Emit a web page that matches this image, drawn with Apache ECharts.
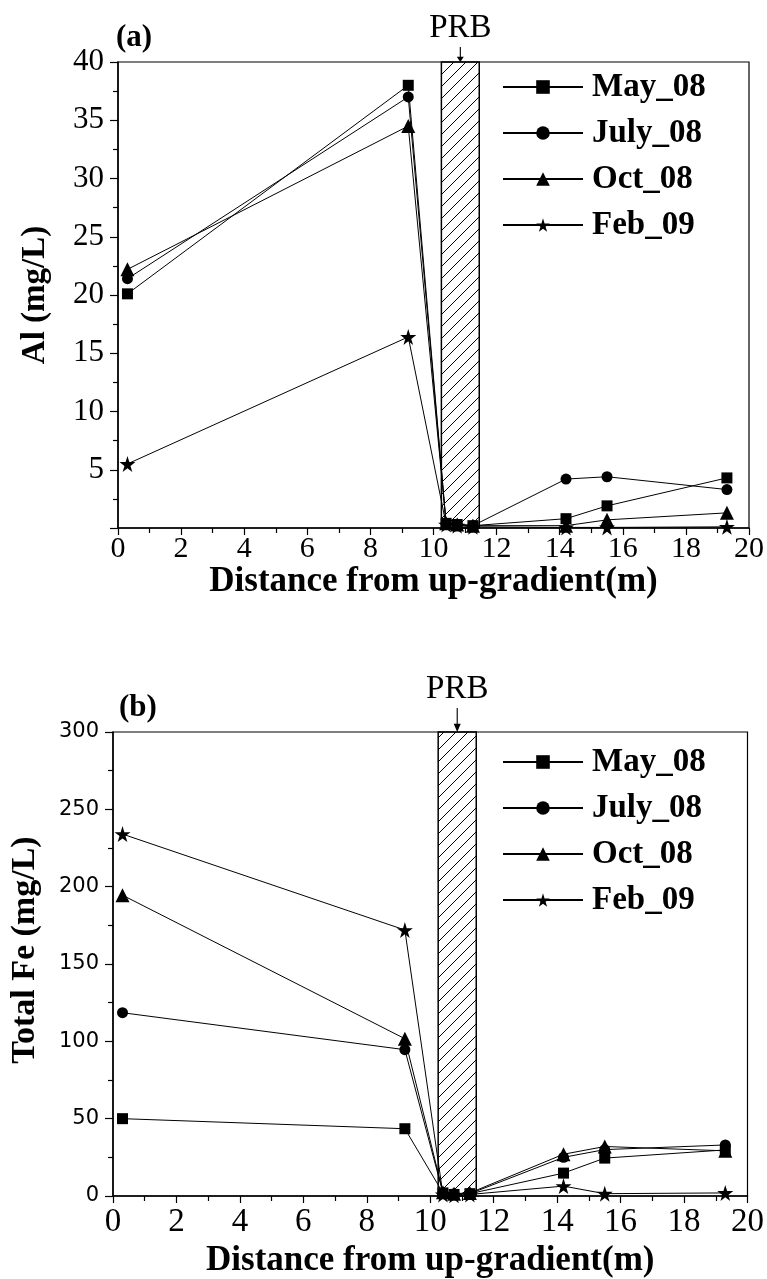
<!DOCTYPE html>
<html><head><meta charset="utf-8">
<script src="https://cdn.jsdelivr.net/npm/echarts@6/dist/echarts.min.js"></script>
<style>html,body{margin:0;padding:0;background:#fff}#c{width:767px;height:1279px}</style>
</head><body><div id="c"></div>
<script>
// ---- data ----
const distances = [0.3, 9.2, 10.4, 10.75, 11.25, 14.2, 15.5, 19.3];
const seriesNames = ['May_08', 'July_08', 'Oct_08', 'Feb_09'];
const alMay  = [20.1, 38.0, 0.4, 0.3, 0.2, 0.8, 1.9, 4.3];
const alJuly = [21.4, 37.0, 0.4, 0.3, 0.2, 4.2, 4.4, 3.3];
const alOct  = [22.2, 34.5, 0.4, 0.3, 0.2, 0.2, 0.7, 1.3];
const alFeb  = [5.5, 16.4, 0.3, 0.2, 0.1, 0.05, 0.05, 0.1];
const feMay  = [50, 43.5, 2, 1, 1.5, 14.8, 24.5, 29.8];
const feJuly = [118.5, 94.6, 2, 1.5, 1.5, 25, 30, 33];
const feOct  = [194.5, 101.7, 2.5, 1.5, 2, 27, 32, 29.2];
const feFeb  = [234, 172, 1, 0.5, 1, 6.4, 1.5, 2];
const prbZone = [10.25, 11.45];
const xTicks = [0, 20, 2];
const alTicks = [0, 40, 5];
const feTicks = [0, 300, 50];

// ---- styles ----
const SERIF = 'Liberation Serif';
const star = 'path://M50,0 L61,35 L98,35 L68,57 L79,91 L50,70 L21,91 L32,57 L2,35 L39,35 Z';
const arrow = 'path://M4.2,0 L5.8,0 L5.8,17 L10,17 L5,26 L0,17 L4.2,17 Z';
const symbols = ['rect', 'circle', 'triangle', star];
const symSizes = [11, 11, 14, 16];

function hatchCanvas() {
  const c = document.createElement('canvas');
  c.width = 12; c.height = 12;
  const g = c.getContext('2d');
  g.strokeStyle = '#000'; g.lineWidth = 1;
  g.beginPath();
  g.moveTo(-1, 13); g.lineTo(13, -1);
  g.moveTo(-7, 7); g.lineTo(7, -7);
  g.moveTo(5, 19); g.lineTo(19, 5);
  g.stroke();
  return c;
}
const hatch = hatchCanvas();

function xAxis(gi, labelSize, labelMargin, nameGap) {
  return {
    gridIndex: gi, type: 'value', min: xTicks[0], max: xTicks[1], interval: xTicks[2],
    axisLine: {onZero: false, lineStyle: {color: '#000', width: 1.5}},
    axisTick: {inside: false, length: 7, lineStyle: {color: '#000', width: 1.2}},
    minorTick: {show: true, splitNumber: 2, length: 5, lineStyle: {color: '#000', width: 1.2}},
    splitLine: {show: false},
    axisLabel: {color: '#000', fontFamily: SERIF, fontSize: labelSize, margin: labelMargin},
    name: 'Distance from up-gradient(m)', nameLocation: 'middle', nameGap: nameGap,
    nameTextStyle: {color: '#000', fontFamily: SERIF, fontWeight: 'bold', fontSize: 35}
  };
}
function yAxis(gi, ticks, name, labelStyle, nameGap, hideZero, nameSize, namePad) {
  return {
    gridIndex: gi, type: 'value', min: ticks[0], max: ticks[1], interval: ticks[2],
    axisLine: {onZero: false, lineStyle: {color: '#000', width: 1.5}},
    axisTick: {inside: false, length: 8, lineStyle: {color: '#000', width: 1.2}},
    minorTick: {show: true, splitNumber: 2, length: 5, lineStyle: {color: '#000', width: 1.2}},
    splitLine: {show: false},
    axisLabel: Object.assign({color: '#000', formatter: v => (hideZero && v === 0) ? '' : String(v)}, labelStyle),
    name: name, nameLocation: 'middle', nameRotate: 90, nameGap: nameGap,
    nameTextStyle: {color: '#000', fontFamily: SERIF, fontWeight: 'bold', fontSize: nameSize, padding: namePad}
  };
}

function dataSeries(gi, valuesList) {
  return seriesNames.map((n, k) => ({
    name: n, type: 'line', xAxisIndex: gi, yAxisIndex: gi,
    data: distances.map((x, i) => [x, valuesList[k][i]]),
    symbol: symbols[k], symbolSize: symSizes[k], showAllSymbol: true,
    lineStyle: {color: '#000', width: 1}, itemStyle: {color: '#000'},
    clip: false, z: 5, emphasis: {disabled: true}, animation: false
  }));
}
function prbSeries(gi, yTop, arrowLen) {
  return {
    type: 'line', xAxisIndex: gi, yAxisIndex: gi, data: [], silent: true, z: 1, animation: false,
    markArea: {silent: true,
      itemStyle: {color: {image: hatch, repeat: 'repeat'}, borderColor: '#000', borderWidth: 1.5},
      data: [[{xAxis: prbZone[0]}, {xAxis: prbZone[1]}]]},
    markPoint: {silent: true, symbol: arrow, symbolSize: [7, arrowLen], symbolOffset: [0, '-50%'],
      itemStyle: {color: '#000'},
      label: {show: true, position: 'top', distance: 2, formatter: 'PRB', color: '#000', fontFamily: SERIF, fontSize: 33},
      data: [{coord: [(prbZone[0] + prbZone[1]) / 2, yTop]}]}
  };
}

const legendBase = {
  data: seriesNames, orient: 'vertical', left: 497, itemWidth: 80, itemHeight: 17, itemGap: 12,
  selectedMode: false,
  textStyle: {color: '#000', fontFamily: SERIF, fontWeight: 'bold', fontSize: 33, lineHeight: 34, padding: [0, 0, 0, 4]}
};

const option = {
  backgroundColor: '#fff',
  animation: false,
  title: [
    {text: '(a)', left: 116, top: 22, padding: 0, textStyle: {color: '#000', fontFamily: SERIF, fontWeight: 'bold', fontSize: 31}},
    {text: '(b)', left: 119, top: 692, padding: 0, textStyle: {color: '#000', fontFamily: SERIF, fontWeight: 'bold', fontSize: 31}}
  ],
  legend: [
    Object.assign({}, legendBase, {top: 65}),
    Object.assign({}, legendBase, {top: 740})
  ],
  grid: [
    {left: 118, right: 18, top: 62, height: 466, show: true, borderColor: '#000', borderWidth: 1.2, backgroundColor: 'transparent'},
    {left: 113, right: 18, top: 732, height: 466, show: true, borderColor: '#000', borderWidth: 1.2, backgroundColor: 'transparent'}
  ],
  xAxis: [xAxis(0, 30, 6, 33), xAxis(1, 33, 10, 47)],
  yAxis: [
    yAxis(0, alTicks, 'Al (mg/L)', {fontFamily: SERIF, fontSize: 31, margin: 14}, 66, true, 33, 0),
    yAxis(1, feTicks, 'Total Fe (mg/L)', {fontFamily: 'DejaVu Sans', fontSize: 21, margin: 14}, 71, false, 34, [0, 0, 0, 28])
  ],
  series: [prbSeries(0, 40, 15), prbSeries(1, 300, 24)]
    .concat(dataSeries(0, [alMay, alJuly, alOct, alFeb]))
    .concat(dataSeries(1, [feMay, feJuly, feOct, feFeb]))
};
const chart = echarts.init(document.getElementById('c'), null, {renderer: 'canvas'});
chart.setOption(option);
</script>
</body></html>
